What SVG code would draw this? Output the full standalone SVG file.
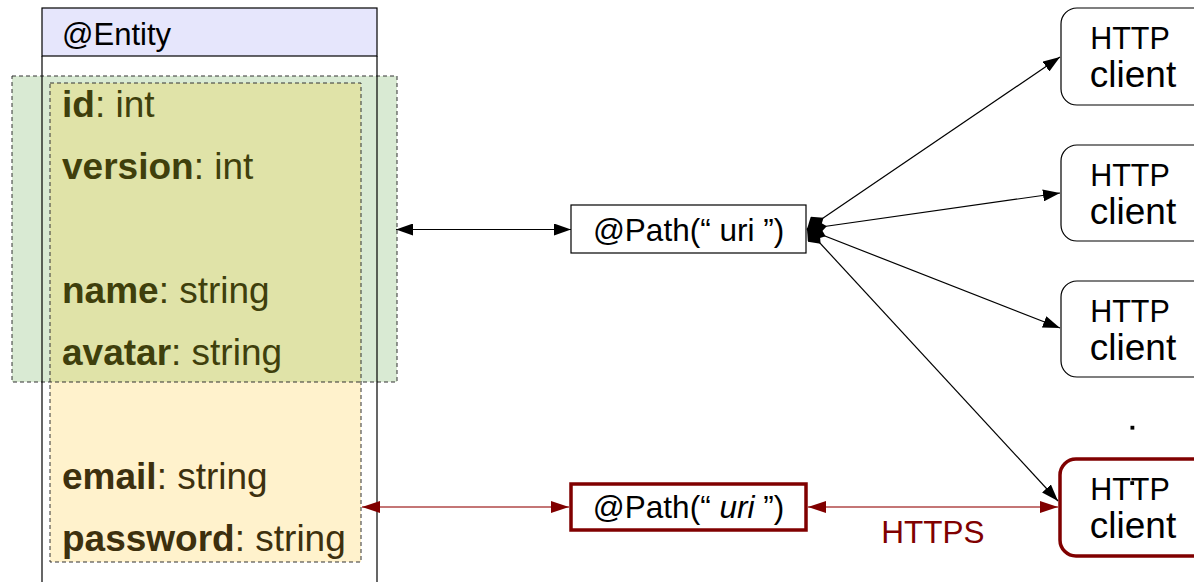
<svg xmlns="http://www.w3.org/2000/svg" width="1194" height="582" viewBox="0 0 1194 582">
<style>
  .lbl { font-family: "Liberation Sans", Arial, sans-serif; fill: #000; }
  .fld { font-family: "Liberation Sans", Arial, sans-serif; font-size: 37px; }
  .top { fill: #3f3f0c; }
  .bot { fill: #3d300e; }
  .dash { fill: none; stroke: #333; stroke-width: 1; stroke-dasharray: 4 3; }
  .blk { stroke: #000; stroke-width: 1.2; fill: none; }
  .red { stroke: #b04848; stroke-width: 1.6; fill: none; }
  .box { fill: #fff; stroke: #000; stroke-width: 1.2; }
  .rbox { fill: #fff; stroke: #800000; stroke-width: 3.5; }
</style>
<defs>
  <marker id="ab" viewBox="0 0 17 12" refX="17" refY="6" markerWidth="17" markerHeight="12" markerUnits="userSpaceOnUse" orient="auto-start-reverse">
    <path d="M0,0 L17,6 L0,12 z" fill="#000"/>
  </marker>
  <marker id="ar" viewBox="0 0 18 12" refX="18" refY="6" markerWidth="18" markerHeight="12" markerUnits="userSpaceOnUse" orient="auto-start-reverse">
    <path d="M0,0 L18,6 L0,12 z" fill="#800000"/>
  </marker>
  <marker id="dm" viewBox="0 0 20 16" refX="0" refY="8" markerWidth="20" markerHeight="16" markerUnits="userSpaceOnUse" orient="auto">
    <path d="M0,8 L10,0 L20,8 L10,16 z" fill="#000"/>
  </marker>
</defs>

<g id="entity">
  <rect x="12" y="76" width="385" height="306" fill="#d9ead3"/>
  <rect x="50" y="83" width="311" height="479" fill="#fff2cc"/>
  <rect x="50" y="83" width="311" height="299" fill="#e0e3a8"/>
  <rect x="12" y="76" width="385" height="306" class="dash"/>
  <rect x="50" y="83" width="311" height="479" class="dash"/>
  <line x1="42" y1="56" x2="42" y2="582" stroke="#000" stroke-width="1.2"/>
  <line x1="377" y1="56" x2="377" y2="582" stroke="#000" stroke-width="1.2"/>
  <rect x="42" y="8" width="335" height="48" fill="#e6e6fc" stroke="#000" stroke-width="1.2"/>
  <text class="lbl" x="62" y="45" font-size="31">@Entity</text>
  <text class="fld top" x="62" y="117"><tspan font-weight="bold">id</tspan>: int</text>
  <text class="fld top" x="62" y="179"><tspan font-weight="bold">version</tspan>: int</text>
  <text class="fld top" x="62" y="303"><tspan font-weight="bold">name</tspan>: string</text>
  <text class="fld top" x="62" y="365"><tspan font-weight="bold">avatar</tspan>: string</text>
  <text class="fld bot" x="62" y="489"><tspan font-weight="bold">email</tspan>: string</text>
  <text class="fld bot" x="62" y="551"><tspan font-weight="bold">password</tspan>: string</text>
</g>

<g id="path-public">
  <rect x="571" y="205" width="235" height="48" class="box"/>
  <text class="lbl" x="688.5" y="241" font-size="31.5" text-anchor="middle">@Path(“ uri ”)</text>
</g>

<g id="path-secure">
  <rect x="571" y="484" width="235" height="46" class="rbox"/>
  <text class="lbl" x="688.5" y="518" font-size="31.5" text-anchor="middle">@Path(“ <tspan font-style="italic">uri</tspan> ”)</text>
</g>

<g id="client1">
  <rect x="1061" y="8" width="150" height="97" rx="16" class="box"/>
  <text class="lbl" x="1130" y="49" font-size="30.5" text-anchor="middle">HTTP</text>
  <text class="lbl" x="1133" y="87" font-size="37" text-anchor="middle">client</text>
</g>
<g id="client2">
  <rect x="1061" y="145" width="150" height="96" rx="16" class="box"/>
  <text class="lbl" x="1130" y="186" font-size="30.5" text-anchor="middle">HTTP</text>
  <text class="lbl" x="1133" y="224" font-size="37" text-anchor="middle">client</text>
</g>
<g id="client3">
  <rect x="1061" y="281" width="150" height="96" rx="16" class="box"/>
  <text class="lbl" x="1130" y="322" font-size="30.5" text-anchor="middle">HTTP</text>
  <text class="lbl" x="1133" y="360" font-size="37" text-anchor="middle">client</text>
</g>
<g id="client4">
  <rect x="1060" y="459" width="150" height="97" rx="16" class="rbox"/>
  <text class="lbl" x="1130" y="500" font-size="30.5" text-anchor="middle">HTTP</text>
  <text class="lbl" x="1133" y="538" font-size="37" text-anchor="middle">client</text>
</g>

<g id="ellipsis" fill="#000">
  <rect x="1130.5" y="425.8" width="3.8" height="3.8"/>
  <rect x="1130.3" y="481.2" width="3.8" height="3.8"/>
</g>

<g id="connectors">
  <line x1="396" y1="229.5" x2="571" y2="229.5" class="blk" marker-start="url(#ab)" marker-end="url(#ab)"/>
  <line x1="807" y1="229" x2="1060" y2="57" class="blk" marker-start="url(#dm)" marker-end="url(#ab)"/>
  <line x1="807" y1="229" x2="1060" y2="193" class="blk" marker-start="url(#dm)" marker-end="url(#ab)"/>
  <line x1="807" y1="229" x2="1060" y2="328" class="blk" marker-start="url(#dm)" marker-end="url(#ab)"/>
  <line x1="807" y1="229" x2="1058" y2="501" class="blk" marker-start="url(#dm)" marker-end="url(#ab)"/>
  <line x1="362" y1="507" x2="569" y2="507" class="red" marker-start="url(#ar)" marker-end="url(#ar)"/>
  <line x1="808" y1="507" x2="1058" y2="507" class="red" marker-start="url(#ar)" marker-end="url(#ar)"/>
  <text x="933" y="543" font-family="Liberation Sans, Arial, sans-serif" font-size="31.5" fill="#800000" text-anchor="middle">HTTPS</text>
</g>
</svg>
